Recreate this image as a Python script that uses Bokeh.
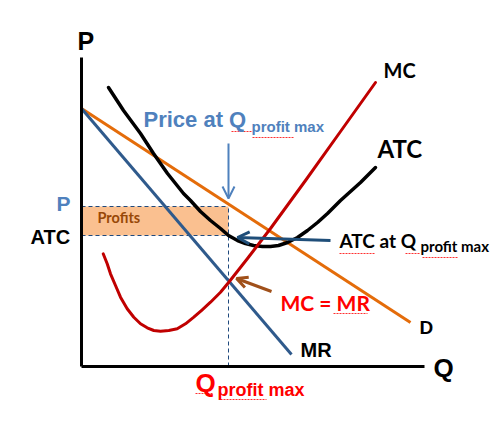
from bokeh.plotting import figure
from bokeh.models import Range1d, Label, Arrow, OpenHead
from bokeh.embed import file_html
from bokeh.resources import INLINE

# ---- data (Q, P units) ----
axis_q_max = 34.3
axis_p_max = 30.9

demand_q = [0.0, 32.9]
demand_p = [25.8, 4.4]

mr_q = [0.0, 21.0]
mr_p = [25.8, 1.2]

atc_q = [2.7, 4.2, 5.9, 7.2, 8.6, 10.2, 10.9, 11.9, 12.9, 13.9, 14.7, 15.6, 16.4, 17.2, 18.1,
         18.9, 19.7, 20.6, 21.6, 22.6, 23.6, 24.6, 25.9, 27.9, 29.4]
atc_p = [27.9, 25.6, 23.3, 21.3, 19.3, 17.3, 16.6, 15.5, 14.6, 13.8, 13.1, 12.6, 12.3, 12.1, 12.0,
         12.0, 12.1, 12.4, 12.9, 13.6, 14.4, 15.3, 16.6, 18.4, 19.9]

mc_q = [2.17, 2.57, 2.90, 3.40, 3.90, 4.57, 5.23, 5.90, 6.57, 7.23, 7.90, 8.73, 9.57, 10.40,
        11.23, 12.07, 12.90, 13.90, 14.73, 16.6, 18.9, 22.4, 25.9, 29.4]
mc_p = [11.27, 10.27, 9.27, 8.10, 6.93, 5.77, 4.93, 4.27, 3.87, 3.60, 3.53, 3.60, 3.77, 4.27,
        4.93, 5.67, 6.43, 7.43, 8.43, 10.8, 13.8, 18.6, 23.5, 28.4]

q_star = 14.7
p_star = 16.0
atc_star = 13.1
mc_mr_p = 8.5

# ---- figure ----
p = figure(width=492, height=444, output_backend="svg", toolbar_location=None,
           x_range=Range1d(-8.1, 41.1), y_range=Range1d(-7.8, 36.6), min_border=0)
p.axis.visible = False
p.grid.visible = False
p.outline_line_color = None
p.background_fill_color = "white"
p.border_fill_color = "white"

# profits rectangle
p.quad(left=[0], right=[q_star], bottom=[atc_star], top=[p_star],
       fill_color="#FAC090", line_color=None)

dash_col = "#1F497D"
p.line([0, q_star], [p_star, p_star], line_color=dash_col, line_dash="4 3", line_width=1)
p.line([0, q_star], [atc_star, atc_star], line_color=dash_col, line_dash="4 3", line_width=1)
p.line([q_star, q_star], [0, p_star], line_color=dash_col, line_dash="4 3", line_width=1)

# curves
p.line(demand_q, demand_p, line_color="#E46C0A", line_width=3)
p.line(mr_q, mr_p, line_color="#2F5A8C", line_width=3)
p.line(atc_q, atc_p, line_color="black", line_width=3.5, line_join="round", line_cap="round")
p.line(mc_q, mc_p, line_color="#C00000", line_width=3, line_join="round", line_cap="round")

# axes
p.line([0, 0], [0, axis_p_max], line_color="black", line_width=3)
p.line([0, axis_q_max], [0, 0], line_color="black", line_width=3)

# arrows
p.add_layout(Arrow(end=OpenHead(size=12, line_color="#4F81BD", line_width=2),
                   x_start=q_star, y_start=22.3, x_end=q_star, y_end=p_star + 0.8,
                   line_color="#4F81BD", line_width=2))
p.add_layout(Arrow(end=OpenHead(size=12, line_color="#1F4E79", line_width=3),
                   x_start=24.9, y_start=12.6, x_end=q_star + 0.9, y_end=atc_star - 0.2,
                   line_color="#1F4E79", line_width=3))
p.add_layout(Arrow(end=OpenHead(size=11, line_color="#A0501A", line_width=3),
                   x_start=19.0, y_start=7.5, x_end=q_star + 0.8, y_end=mc_mr_p + 0.3,
                   line_color="#A0501A", line_width=3))

ARIAL = "Liberation Sans"
CAL = "Lato"

def lab(text, xp, yp, size, color="black", font=ARIAL):
    # xp, yp: page-pixel position of the text's left/baseline
    p.add_layout(Label(x=(xp - 81) / 10.0, y=(366 - yp) / 10.0 + 0.8, text=text,
                       text_font=font, text_font_style="bold",
                       text_font_size=f"{size}px", text_color=color,
                       text_baseline="alphabetic", text_align="left"))

def squiggle(x0, x1, yp):
    # spell-check style red underline (page pixels)
    p.line([(x0 - 81) / 10.0, (x1 - 81) / 10.0], [(366 - yp) / 10.0] * 2,
           line_color="#FF3030", line_width=1.2, line_dash="2 1")

lab("P", 77, 48, 25)
lab("Q", 433, 375, 26)
lab("MC", 383, 77, 20, font=CAL)
lab("ATC", 377, 156, 24, font=CAL)
lab("Price at Q", 143, 127, 22, color="#4F81BD")
lab("profit max", 251, 134, 15, color="#4F81BD")
lab("P", 56, 211, 21, color="#4F81BD")
lab("ATC", 30, 244, 20)
lab("Profits", 97, 225, 14.5, color="#984807", font=CAL)
lab("ATC at Q", 339, 248, 19, font=CAL)
lab("profit max", 420, 253, 15, font=CAL)
lab("MC = MR", 280, 310, 21, color="#FF0000", font=CAL)
lab("D", 419, 335, 19)
lab("MR", 300, 357, 20)
lab("Q", 195, 390, 26, color="#FF0000")
lab("profit max", 217, 397, 18, color="#FF0000")

squiggle(231, 251, 131)
squiggle(252, 293, 137)
squiggle(339, 375, 253)
squiggle(405, 420, 253)
squiggle(422, 457, 257)
squiggle(333, 367, 313)
squiggle(195, 212, 393)
squiggle(220, 266, 399)

open("out.html", "w").write(file_html(p, INLINE))
